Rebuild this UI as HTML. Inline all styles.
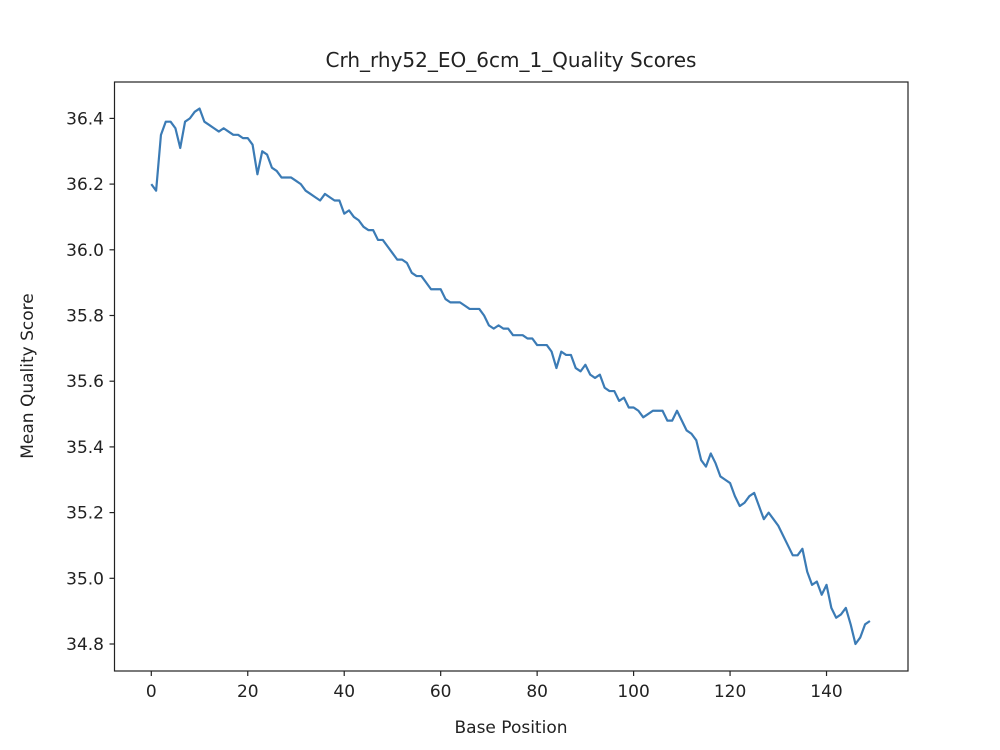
<!DOCTYPE html>
<html><head><meta charset="utf-8"><style>body{margin:0;background:#fff}svg{display:block}text{font-family:"DejaVu Sans","Liberation Sans",sans-serif;fill:#222}</style></head>
<body>
<svg id="chart" width="1000" height="750" viewBox="0 0 1000 750" xmlns="http://www.w3.org/2000/svg">
<rect x="0" y="0" width="1000" height="750" fill="#fff"/>
<text x="511" y="67" font-size="20" text-anchor="middle">Crh_rhy52_EO_6cm_1_Quality Scores</text>
<text x="511" y="733" font-size="17" text-anchor="middle">Base Position</text>
<text transform="translate(33,376) rotate(-90)" font-size="17" text-anchor="middle">Mean Quality Score</text>
<g id="ticks"></g>
<path id="line" fill="none" stroke="#3b7bb5" stroke-width="2.2" stroke-linejoin="round"/>
<rect x="114.5" y="82" width="793.5" height="589" fill="none" stroke="#222" stroke-width="1.2"/>
</svg>
<script>
const positions = Array.from({length:150},(_, i)=>i);
const scores = [36.20,36.18,36.35,36.39,36.39,36.37,36.31,36.39,36.40,36.42,36.43,36.39,36.38,36.37,36.36,36.37,36.36,36.35,36.35,36.34,36.34,36.32,36.23,36.30,36.29,36.25,36.24,36.22,36.22,36.22,36.21,36.20,36.18,36.17,36.16,36.15,36.17,36.16,36.15,36.15,36.11,36.12,36.10,36.09,36.07,36.06,36.06,36.03,36.03,36.01,35.99,35.97,35.97,35.96,35.93,35.92,35.92,35.90,35.88,35.88,35.88,35.85,35.84,35.84,35.84,35.83,35.82,35.82,35.82,35.80,35.77,35.76,35.77,35.76,35.76,35.74,35.74,35.74,35.73,35.73,35.71,35.71,35.71,35.69,35.64,35.69,35.68,35.68,35.64,35.63,35.65,35.62,35.61,35.62,35.58,35.57,35.57,35.54,35.55,35.52,35.52,35.51,35.49,35.50,35.51,35.51,35.51,35.48,35.48,35.51,35.48,35.45,35.44,35.42,35.36,35.34,35.38,35.35,35.31,35.30,35.29,35.25,35.22,35.23,35.25,35.26,35.22,35.18,35.20,35.18,35.16,35.13,35.10,35.07,35.07,35.09,35.02,34.98,34.99,34.95,34.98,34.91,34.88,34.89,34.91,34.86,34.80,34.82,34.86,34.87];
const xTicks = [0,20,40,60,80,100,120,140];
const yTicks = [34.8,35.0,35.2,35.4,35.6,35.8,36.0,36.2,36.4];

const X = v => 151.3 + v*4.823;
const Y = v => 644 - (v-34.8)*328.5;
const NS = "http://www.w3.org/2000/svg";
const g = document.getElementById('ticks');
function mk(tag, attrs){const e=document.createElementNS(NS,tag);for(const k in attrs)e.setAttribute(k,attrs[k]);g.appendChild(e);return e;}
xTicks.forEach(t=>{
  const l=mk('line',{x1:X(t),x2:X(t),y1:671,y2:676,stroke:'#222','stroke-width':1.2});
  
  
  const tx=mk('text',{x:X(t),y:697,'font-size':17,'text-anchor':'middle'});
  tx.textContent=t;
  
  
});
yTicks.forEach(t=>{
  const l=mk('line',{x1:109.5,x2:114.5,y1:Y(t),y2:Y(t),stroke:'#222','stroke-width':1.2});
  
  
  const tx=mk('text',{x:104,y:Y(t)+6,'font-size':17,'text-anchor':'end'});
  tx.textContent=t.toFixed(1);
  
  
});
document.getElementById('line').setAttribute('d', scores.map((s,i)=>(i?'L':'M')+X(positions[i]).toFixed(2)+','+Y(s).toFixed(2)).join(''));
</script>
</body></html>
